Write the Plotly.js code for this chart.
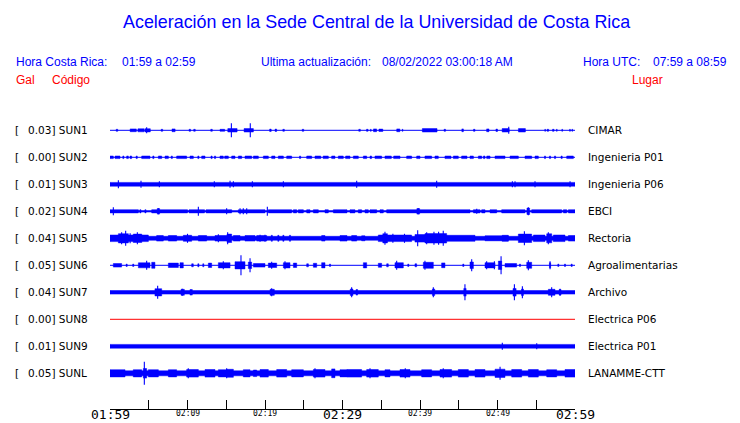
<!DOCTYPE html>
<html>
<head>
<meta charset="utf-8">
<script src="https://cdn.plot.ly/plotly-3.0.1.min.js"></script>
<style>html,body{margin:0;padding:0;background:#fff;}#chart{width:740px;height:423px;}</style>
</head>
<body>
<div id="chart"></div>
<script>
// ---------------- DATA ----------------
const codes = ["SUN1","SUN2","SUN3","SUN4","SUN5","SUN6","SUN7","SUN8","SUN9","SUNL"];
const galPeak = ["0.03","0.00","0.01","0.02","0.04","0.05","0.04","0.00","0.01","0.05"];
const places = ["CIMAR","Ingenieria P01","Ingenieria P06","EBCI","Rectoria","Agroalimentarias","Archivo","Electrica P06","Electrica P01","LANAMME-CTT"];
// background (noise) half-amplitude of each trace
const baseAmp = [0.5,0.5,1.9,0.8,2.0,0.5,1.8,0.5,1.9,2.5];
// bursts: [start minute, end minute, half-amplitude]
const burstsSUN1 = [[0.8,1.0,1],[2.6,3.4,1.4],[3.6,4.4,1.5],[4.5,5.2,1.6],[6.6,6.8,1],[8.0,8.4,1.4],[10.2,10.4,1],[10.8,11.0,1],[13.0,13.2,1],[14.2,14.8,1],
  [15.2,16.4,1.7],[17.3,18.5,1.7],[20.6,20.8,1.2],[21.3,21.5,1.2],[22.3,22.5,1],[24.8,25.0,1],
  [32.1,32.3,1],[33.1,33.3,1],[33.6,33.7,1],[34.0,34.4,1.4],[34.7,35.2,1.2],[37.0,37.4,1.4],[37.7,37.8,1],[40.3,42.2,1.7],[43.1,43.3,1],[45.4,45.6,1.4],
  [46.9,47.1,1],[48.6,48.9,1.4],[49.8,50.0,1.2],[50.6,51.5,1.7],[52.7,53.6,1.7],[56.1,56.2,1],[56.4,56.6,1],[57.1,57.3,1],[57.6,57.7,1],[58.3,58.4,1],[59.3,59.4,1],[59.6,59.7,1]];
const burstsSUN2 = [[0,0.43,1.3],[0.65,1.29,1.3],[1.65,1.8,1.3],[2.15,2.37,1.3],[2.58,2.8,1.3],[3.37,3.52,1.3],[4.09,5.16,1.3],[5.52,5.68,1.3],[6.24,6.67,1.3],[7.1,7.53,1.3],[7.9,8.05,1.3],[8.6,9.89,1.3],[10.32,10.75,1.3],[11.33,11.48,1.3],[11.83,12.26,1.3],[13.03,13.18,1.3],[13.48,13.63,1.3],[14.19,14.62,1.3],[14.8,15.27,1.3],[15.7,16.13,1.3],[16.56,16.99,1.3],[17.42,18.28,1.3],[18.5,19.14,1.3],[19.79,20.43,1.3],[20.86,21.29,1.3],[21.72,22.37,1.3],[22.8,23.44,1.3],[24.45,24.6,1.3],[25.38,26.02,1.3],[26.45,27.2,1.3],[27.5,28.17,1.3],[28.6,29.03,1.3],[29.46,30.1,1.3],[30.4,30.97,1.3],[31.4,32.04,1.3],[32.69,33.12,1.3],[33.55,33.76,1.3],[34.19,35.05,1.3],[35.48,36.3,1.3],[36.6,37.42,1.3],[38.28,38.92,1.3],[39.57,40.0,1.3],[40.64,41.5,1.3],[41.93,42.36,1.3],[43.22,44.0,1.3],[44.3,44.94,1.3],[45.37,46.06,1.3],[46.45,46.89,1.3],[47.53,47.96,1.3],[48.18,48.39,1.3],[48.61,49.04,1.3],[49.68,50.97,1.3],[51.62,52.69,1.3],[53.55,54.41,1.3],[54.84,55.27,1.3],[56.06,56.2,1.3],[56.7,56.85,1.3],[57.35,57.5,1.3],[58.2,58.35,1.3],[58.93,59.79,1.3]];
const burstsSUN3 = [];
const burstsSUN4 = [[0,3.66,1.6],[3.85,4.0,1.6],[4.5,4.65,1.6],[5.38,10.0,1.6],[10.2,12.2,1.6],[12.4,15.7,1.6],[16.56,20.0,1.6],[20.43,23.44,1.6],[23.66,24.09,1.6],[24.3,24.95,1.6],[25.38,25.81,1.6],[26.24,26.88,1.6],[27.74,28.17,1.6],[28.82,30.58,1.6],[30.97,31.61,1.6],[32.04,32.47,1.6],[32.9,33.33,1.6],[33.55,34.41,1.6],[34.84,35.27,1.6],[35.7,46.45,1.6],[46.89,47.75,1.6],[47.96,48.39,1.6],[49.04,49.9,1.6],[50.54,53.55,1.6],[54.41,58.28,1.6],[58.5,58.93,1.6],[59.15,60,1.6],
  [6.1,6.4,2.8],[39.6,39.95,2.8],[53.8,54.15,3.2]];
const burstsSUN5 = [[0,1.08,3.3],[1.08,2.37,4.6],[2.37,3.0,3.3],[3.0,4.1,4.2],[4.1,4.95,3.3],[6.02,6.88,2.8],[7.53,8.6,2.8],[9.46,10.54,3],[11.4,12.47,2.8],[13.55,15.1,2.8],[15.1,15.7,4.2],[15.92,16.78,2.8],[17.42,18.71,2.8],[18.93,20.22,2.8],[20.8,20.95,3],[21.65,21.8,3],[22.3,22.45,3],[23.15,23.3,3],[27.31,27.74,2.8],[29.68,30.58,2.8],[31.18,31.83,2.8],[32.47,32.9,2.5],[34.62,35.2,3.3],[35.2,35.8,4.6],[35.8,38.92,3.3],[39.35,40.64,3.8],[40.64,43.44,4.7],[43.44,47.1,3],[48.39,51.4,2.5],[50.6,51.4,3],[52.69,54.41,4.2],[54.63,56.13,3.3],[56.35,57.0,4.5],[57.2,58.71,3.3],[59.15,60,2.8]];
const burstsSUN6 = [[0.43,1.5,1.8],[2.08,2.22,1.2],[2.93,3.07,1.2],[3.66,5.16,2.5],[5.38,5.8,3],[7.53,8.82,2.2],[9.03,9.46,2.6],[10.54,10.75,1.5],[11.33,11.48,1.5],[11.97,12.11,1.5],[12.69,13.12,2.2],[13.98,15.49,2.6],[16.13,17.42,3.6],[17.85,18.28,3.2],[18.5,20.0,1.8],[20.43,21.51,2.2],[22.37,23.23,2.6],[23.66,24.09,2.2],[25.38,25.6,1.5],[26.24,26.67,2],[27.31,27.74,2.6],[28.32,28.46,1.2],[32.69,33.12,2.6],[34.62,35.05,2],[35.7,35.91,1.5],[36.77,37.85,2.6],[38.42,38.56,1.2],[39.35,39.57,1.5],[40.43,41.72,3],[42.79,43.22,2.4],[45.52,45.66,1.2],[46.45,46.89,3.3],[48.39,49.68,2.6],[50.11,50.54,4.2],[50.97,52.47,1.8],[52.83,52.97,1.2],[53.77,54.41,3],[56.7,56.86,2.5],[57.78,57.92,1.2],[58.64,58.78,1.2],[59.5,59.64,1.2]];
const burstsSUN7 = [[5.8,6.67,3.6],[9.16,9.59,3],[10.32,10.62,2.8],[20.65,21.2,3],[31.0,31.35,3.3],[31.75,31.95,2.8],[41.6,41.9,3.3],[45.65,45.95,3.8],[52.0,52.4,3.8],[53.1,53.35,3.3],[56.56,57.42,3],[57.95,58.2,2.8]];
const burstsSUN8 = [];
const burstsSUN9 = [];
const burstsSUNL = [[0,1.94,3.6],[3.0,4.09,3.6],[4.3,4.73,4.8],[4.95,6.24,3.6],[7.53,8.6,3.6],[9.89,11.4,3.8],[12.26,13.55,3.8],[13.98,15.1,3.6],[15.1,15.92,4],[17.2,18.07,3.6],[18.5,18.93,3.3],[19.36,20.43,3.8],[21.51,22.8,3.8],[23.44,24.95,3.6],[26.24,27.74,3.8],[28.6,29.03,4.4],[29.68,30.58,3.6],[30.58,32.47,3.8],[33.12,34.62,3.8],[35.48,36.13,3.6],[37.42,38.71,3.8],[40.21,41.5,3.6],[42.58,44.08,3.8],[44.94,46.24,3.8],[47.1,48.39,3.8],[49.68,50.97,4.1],[51.83,53.12,3.8],[53.98,55.27,3.8],[56.35,57.64,3.6],[58.71,60,3.8]];
// spikes: [minute, half-amplitude]
const spikesSUN1 = [[4.73,3],[15.66,7],[18.1,7],[51.45,3.5]];
const spikesSUN2 = [];
const spikesSUN3 = [[1.08,4],[4.0,3.5],[6.37,3],[13.46,3],[15.49,3.5],[15.92,3],[18.37,3],[22.37,3],[31.83,3.5],[42.15,3.5],[51.92,3],[52.26,3],[54.84,3],[59.36,3]];
const spikesSUN4 = [[0.43,4],[6.24,3],[11.4,4.5],[15.05,3],[16.78,3],[17.2,3],[17.64,3],[20.3,4.5],[39.78,3],[47.32,2.5],[53.98,4]];
const spikesSUN5 = [[2.02,7.5],[3.53,6],[1.5,6],[2.6,5],[10.0,4.5],[13.98,4],[15.18,6],[19.36,3.5],[20.0,3.5],[35.48,6.5],[36.5,4.5],[38.0,4.5],[39.7,8],[40.86,6],[41.8,6.5],[42.4,6.5],[43.0,7.5],[53.47,7],[56.56,6]];
const spikesSUN6 = [[4.73,4.5],[14.62,4],[16.9,10],[18.07,7],[20.86,3.5],[22.58,4],[36.99,4.5],[40.64,4.5],[46.67,6],[48.6,4],[49.6,4],[50.46,9],[53.98,5],[56.78,4]];
const spikesSUN7 = [[6.15,6.5],[9.33,3.5],[20.86,4],[31.18,5],[41.72,5],[45.8,8],[52.18,8],[53.21,6],[56.99,5],[58.07,3.5]];
const spikesSUN8 = [];
const spikesSUN9 = [[50.62,3.5],[55.06,3]];
const spikesSUNL = [[4.43,11.5],[10.1,5],[15.05,5],[26.45,5],[33.55,5],[38.1,5],[43.0,5],[50.33,6.5]];
// axis ticks (minutes after 01:59)
const tickMinutes = [0,5,10,15,20,25,30,35,40,45,50,55,60];
const labelMinutes = [0,10,20,30,40,50,60];
const labelText = ["01:59","02:09","02:19","02:29","02:39","02:49","02:59"];
const labelMajor = [true,false,false,true,false,false,true];

const bursts = [burstsSUN1,burstsSUN2,burstsSUN3,burstsSUN4,burstsSUN5,burstsSUN6,burstsSUN7,burstsSUN8,burstsSUN9,burstsSUNL];
const spikes = [spikesSUN1,spikesSUN2,spikesSUN3,spikesSUN4,spikesSUN5,spikesSUN6,spikesSUN7,spikesSUN8,spikesSUN9,spikesSUNL];

// ---------------- LAYOUT HELPERS ----------------
const W = 740, H = 423, L = 110, R = 575, B = 409;
const rowY = i => 130.3 + 27 * i;
const px = x => (x - L) / (R - L);
const py = y => 1 - y / B;
const BLUE = "#0000ff", RED = "#ff0000";

const traces = [];
codes.forEach((c, i) => {
  const y0 = rowY(i);
  const col = (c === "SUN8") ? RED : BLUE;
  const b = baseAmp[i];
  if (b <= 0.5) {
    traces.push({x:[0,60], y:[y0,y0], mode:"lines", line:{color:col, width:1}, hoverinfo:"skip"});
  } else {
    traces.push({x:[0,60,60,0,0], y:[y0-b,y0-b,y0+b,y0+b,y0-b], mode:"lines", fill:"toself", fillcolor:col, line:{color:col, width:0.5}, hoverinfo:"skip"});
  }
  if (bursts[i].length) {
    const xs = [], ys = [];
    bursts[i].forEach(([t0,t1,h]) => {
      xs.push(t0,t1,t1,t0,t0,null);
      ys.push(y0-h,y0-h,y0+h,y0+h,y0-h,null);
    });
    traces.push({x:xs, y:ys, mode:"lines", fill:"toself", fillcolor:col, line:{color:col, width:0.5}, connectgaps:false, hoverinfo:"skip"});
  }
  if (spikes[i].length) {
    const xs = [], ys = [];
    spikes[i].forEach(([t,h]) => { xs.push(t,t,null); ys.push(y0-h,y0+h,null); });
    traces.push({x:xs, y:ys, mode:"lines", line:{color:col, width:1.1}, connectgaps:false, hoverinfo:"skip"});
  }
});

const ann = [];
function addText(text, x, y, size, color, family, xanchor, yanchor) {
  ann.push({xref:"paper", yref:"paper", x:px(x), y:py(y), text:text, showarrow:false,
    xanchor:xanchor || "left", yanchor:yanchor || "middle", borderpad:0,
    font:{family:family, size:size, color:color}});
}
const SANS = "Liberation Sans, Arial, sans-serif";
const DJ = "DejaVu Sans, sans-serif";
const MONO = "DejaVu Sans Mono, monospace";

addText("Aceleración en la Sede Central de la Universidad de Costa Rica", 376, 22.5, 17.9, BLUE, SANS, "center");
addText("Hora Costa Rica:", 15, 61.5, 12, BLUE, SANS);
addText("01:59 a 02:59", 121, 61.5, 12, BLUE, SANS);
addText("Ultima actualización:", 260, 61.5, 12, BLUE, SANS);
addText("08/02/2022 03:00:18 AM", 381, 61.5, 12, BLUE, SANS);
addText("Hora UTC:", 582, 61.5, 12, BLUE, SANS);
addText("07:59 a 08:59", 652, 61.5, 12, BLUE, SANS);
addText("Gal", 15, 80.5, 12, RED, SANS);
addText("Código", 51, 80.5, 12, RED, SANS);
addText("Lugar", 631, 80.5, 12, RED, SANS);

codes.forEach((c, i) => {
  const y0 = rowY(i);
  addText("[", 14, y0, 10.5, "#000", DJ);
  addText(galPeak[i] + "] " + c, 27, y0, 10.5, "#000", DJ);
  addText(places[i], 587, y0, 10.5, "#000", DJ);
});

labelMinutes.forEach((m, k) => {
  const xpx = L + (R - L) * m / 60;
  if (labelMajor[k]) addText(labelText[k], xpx, 423, 13, "#000", MONO, "center", "bottom");
  else addText(labelText[k], xpx, 413, 8, "#000", MONO, "center");
});

const layout = {
  width: W, height: H,
  margin: {l: L, r: W - R, t: 0, b: H - B, pad: 0},
  paper_bgcolor: "#fff", plot_bgcolor: "#fff",
  showlegend: false,
  xaxis: {range:[0,60], showgrid:false, zeroline:false, showline:true, linecolor:"#000", linewidth:1,
    ticks:"inside", ticklen:9, tickwidth:1, tickcolor:"#000", tickvals:tickMinutes, showticklabels:false, fixedrange:true},
  yaxis: {range:[B,0], visible:false, fixedrange:true},
  annotations: ann
};
Plotly.newPlot("chart", traces, layout, {staticPlot:true, displayModeBar:false});
</script>
</body>
</html>
